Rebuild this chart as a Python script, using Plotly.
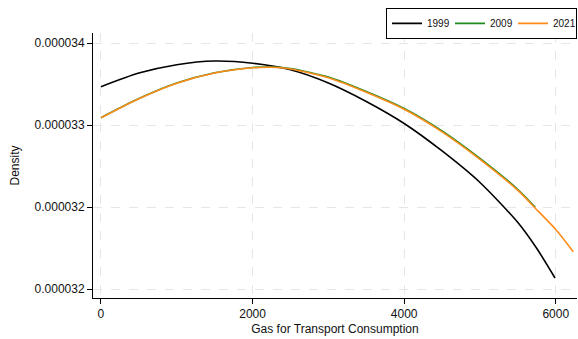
import plotly.graph_objects as go

# Kernel density estimates of gas-for-transport consumption, by year
x_1999 = [0, 500, 1000, 1500, 2000, 2500, 3000, 3500, 4000, 4500, 5000, 5500, 5750, 5990]
d_1999 = [3.32802e-5, 3.33798e-5, 3.34412e-5, 3.34683e-5, 3.34522e-5, 3.34039e-5,
          3.33073e-5, 3.31720e-5, 3.30110e-5, 3.28098e-5, 3.25793e-5, 3.22866e-5,
          3.20963e-5, 3.18805e-5]

x_2009 = [0, 500, 1000, 1500, 2000, 2250, 2500, 3000, 3500, 4000, 4500, 5000, 5500, 5730]
d_2009 = [3.30534e-5, 3.31932e-5, 3.33066e-5, 3.33820e-5, 3.34207e-5, 3.34244e-5,
          3.34134e-5, 3.33512e-5, 3.32451e-5, 3.31207e-5, 3.29561e-5, 3.27549e-5,
          3.25280e-5, 3.23978e-5]

x_2021 = [0, 500, 1000, 1500, 2000, 2250, 2500, 3000, 3500, 4000, 4500, 5000, 5500,
          5730, 6000, 6230]
d_2021 = [3.30527e-5, 3.31924e-5, 3.33059e-5, 3.33805e-5, 3.34185e-5, 3.34222e-5,
          3.34098e-5, 3.33454e-5, 3.32393e-5, 3.31149e-5, 3.29495e-5, 3.27483e-5,
          3.25215e-5, 3.23912e-5, 3.22354e-5, 3.20729e-5]

series_names = ["1999", "2009", "2021"]
series_colors = ["#000000", "#1f8a1f", "#ff8c1a"]

y_tickvals = [3.36e-5, 3.30e-5, 3.24e-5, 3.18e-5]
y_ticktext = ["0.000034", "0.000033", "0.000032", "0.000032"]
x_tickvals = [0, 2000, 4000, 6000]
x_ticktext = ["0", "2000", "4000", "6000"]

FONT = "Liberation Sans, Arial, Helvetica, sans-serif"

fig = go.Figure()
for name, xs, ys, col in zip(series_names, [x_1999, x_2009, x_2021],
                             [d_1999, d_2009, d_2021], series_colors):
    fig.add_trace(go.Scatter(
        x=xs, y=ys, name=name, mode="lines",
        line=dict(color=col, width=1.6, shape="spline", smoothing=0.7),
    ))

axis_common = dict(
    showline=True, linecolor="#000000", linewidth=1,
    ticks="outside", ticklen=5, tickwidth=1, tickcolor="#000000",
    showgrid=True, gridcolor="#e6e6e6", gridwidth=1, griddash="dash",
    zeroline=False, mirror=False,
    tickfont=dict(family=FONT, size=12, color="#111111"),
)

fig.update_xaxes(
    range=[-105, 6280], tickvals=x_tickvals, ticktext=x_ticktext,
    title=dict(text="Gas for Transport Consumption", standoff=4,
               font=dict(family=FONT, size=12, color="#111111")),
    **axis_common,
)
fig.update_yaxes(
    range=[3.173414e-5, 3.367317e-5], tickvals=y_tickvals, ticktext=y_ticktext,
    title=dict(text="Density", standoff=12,
               font=dict(family=FONT, size=12, color="#111111")),
    **axis_common,
)

fig.update_layout(
    width=578, height=339,
    margin=dict(l=93, r=1, t=33, b=41),
    plot_bgcolor="#ffffff", paper_bgcolor="#ffffff",
    font=dict(family=FONT, size=12, color="#111111"),
    legend=dict(
        orientation="h", x=1, xanchor="right", y=1.095, yanchor="top",
        bordercolor="#000000", borderwidth=1, bgcolor="#ffffff",
        font=dict(family=FONT, size=10, color="#111111"),
        itemwidth=30, entrywidth=18, tracegroupgap=0,
    ),
    showlegend=True,
)

fig.write_html("out.html")
